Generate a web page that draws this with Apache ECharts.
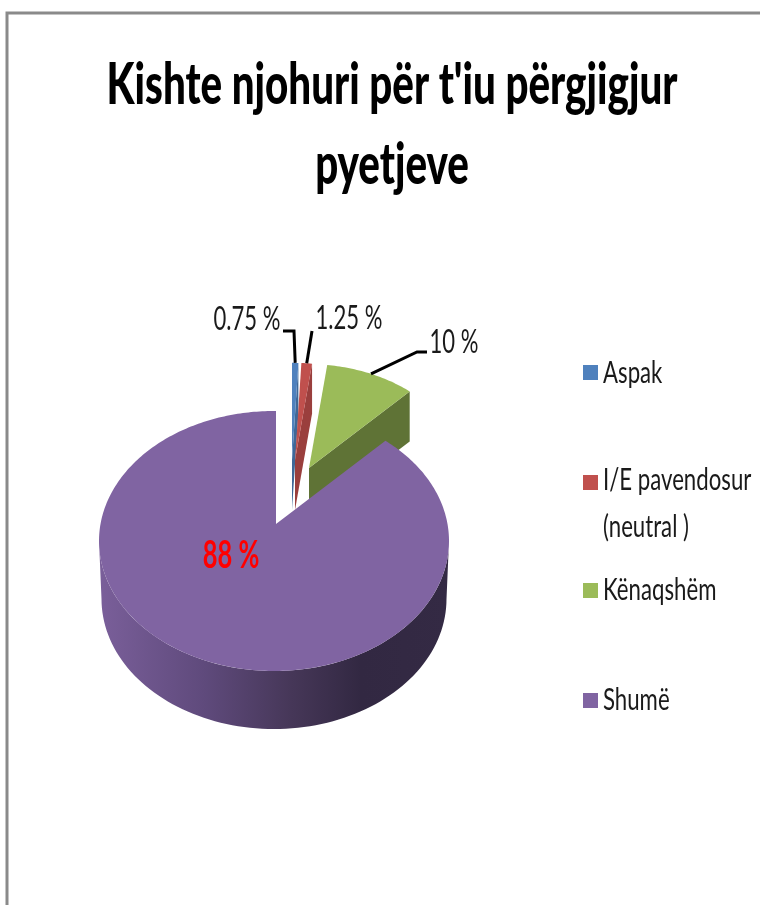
<!DOCTYPE html>
<html>
<head>
<meta charset="utf-8">
<style>html,body{margin:0;padding:0;background:#fff}#c{width:760px;height:905px}</style>
<script src="https://cdn.jsdelivr.net/npm/echarts@6/dist/echarts.min.js"></script>
</head>
<body>
<div id="c"></div>
<script>
const titleLines = ["Kishte njohuri për t'iu përgjigjur", "pyetjeve"];
const categories = ['Aspak', 'I/E pavendosur', 'Kënaqshëm', 'Shumë'];
const categoryExtraLine = '(neutral )';
const values = [0.75, 1.25, 10, 88];
const valueLabels = ['0.75 %', '1.25 %', '10 %', '88 %'];

const colors = ['#4f81bd', '#c0504d', '#9bbb59', '#8064a2'];
const wallColors = ['#3f6897', '#9a3f3d', '#5f7336', '#4a3a5f'];
const FONT = 'Lato,"Open Sans",sans-serif';

// 3D look of the exploded pie: each slice's apex, its size factor and depth
const sliceGeom = [
  { apex: [292, 460], s: 0.86, depth: 50 },
  { apex: [295, 460], s: 0.86, depth: 50 },
  { apex: [309, 468], s: 0.92, depth: 50 },
  { apex: [276, 524], s: 1, depth: 58 }
];
const labelGeom = [
  { pos: [247, 320], elbow: [[283, 331], [294, 331]] },
  { pos: [349, 319], elbow: [[312, 331]] },
  { pos: [454, 343], elbow: [[427, 352], [417, 352]] },
  { pos: [231, 556], elbow: null }
];
const legendTextY = [373, 480, 590, 700];
const legendTops = [365, 475, 583, 693];
const RX = 175, RY = 130, RAY_Y = 125, CENTER_DY = 17, CENTER_DX = -2;

const total = values.reduce((a, b) => a + b, 0);

function rimPoint(g, deg) {
  const th = deg * Math.PI / 180, rx = RX * g.s, ry = RY * g.s;
  const ex = g.apex[0] + CENTER_DX * g.s, ey = g.apex[1] + CENTER_DY * g.s;
  const dx = Math.sin(th) * RX, dy = -Math.cos(th) * RAY_Y;
  const ox = (g.apex[0] - ex) / rx, oy = (g.apex[1] - ey) / ry;
  const nx = dx / rx, ny = dy / ry;
  const a = nx * nx + ny * ny, b = 2 * (ox * nx + oy * ny), c = ox * ox + oy * oy - 1;
  const t = (-b + Math.sqrt(b * b - 4 * a * c)) / (2 * a);
  return [g.apex[0] + dx * t, g.apex[1] + dy * t];
}

function renderSlice(i) {
  return function (params, api) {
    const g = sliceGeom[i];
    const before = values.slice(0, i).reduce((a, b) => a + b, 0);
    const a0 = before / total * 360;
    const a1 = a0 + api.value(0) / total * 360;
    const steps = Math.max(4, Math.ceil(a1 - a0));
    const rim = [];
    for (let k = 0; k <= steps; k++) rim.push(rimPoint(g, a0 + (a1 - a0) * k / steps));
    const children = [];

    if (i === 3) {
      const rx = RX * g.s, ry = RY * g.s;
      const ex = g.apex[0] + CENTER_DX, ey = g.apex[1] + CENTER_DY;
      const upper = [], lower = [];
      for (let d = 0; d <= 180; d += 2) {
        const r = d * Math.PI / 180;
        upper.push([ex + rx * Math.cos(r), ey + ry * Math.sin(r)]);
        lower.push([ex + (rx - 2.5) * Math.cos(r), ey + g.depth + ry * Math.sin(r)]);
      }
      children.push({
        type: 'polygon',
        shape: { points: upper.concat(lower.reverse()) },
        style: {
          fill: new echarts.graphic.LinearGradient(0, 0, 1, 0, [
            { offset: 0, color: '#7a5f9a' },
            { offset: 0.3, color: '#5f4a7c' },
            { offset: 0.55, color: '#463758' },
            { offset: 0.75, color: '#322842' },
            { offset: 1, color: '#342a44' }
          ])
        }
      });
    } else {
      const end = rim[rim.length - 1];
      children.push({
        type: 'polygon',
        shape: { points: [g.apex, end, [end[0], end[1] + g.depth], [g.apex[0], g.apex[1] + g.depth]] },
        style: { fill: wallColors[i] }
      });
    }
    children.push({
      type: 'polygon',
      shape: { points: [g.apex].concat(rim) },
      style: { fill: colors[i] }
    });

    const lab = labelGeom[i];
    if (lab.elbow) {
      const mid = rimPoint(g, (a0 + a1) / 2);
      children.push({
        type: 'polyline',
        shape: { points: lab.elbow.concat([mid]) },
        style: { stroke: '#000', lineWidth: 3, fill: null }
      });
    }
    children.push({
      type: 'text',
      x: lab.pos[0], y: lab.pos[1], scaleX: i === 3 ? 0.67 : 0.69,
      style: {
        text: valueLabels[i],
        fontFamily: FONT,
        fontSize: i === 3 ? 38 : 32,
        fontWeight: i === 3 ? 'bold' : 'normal',
        fill: i === 3 ? '#ff0000' : '#1a1a1a',
        align: 'center', verticalAlign: 'middle'
      }
    });
    return { type: 'group', children: children };
  };
}

function legendText(text, y) {
  return {
    type: 'text', x: 603, y: y, scaleX: 0.74,
    style: { text: text, fontFamily: FONT, fontSize: 30, fill: '#1a1a1a', align: 'left', verticalAlign: 'middle' }
  };
}
function titleLine(text, y) {
  return {
    type: 'text', x: 392, y: y, scaleX: 0.695,
    style: { text: text, fontFamily: FONT, fontWeight: 900, fontSize: 58, fill: '#000', align: 'center', verticalAlign: 'middle' }
  };
}

const chart = echarts.init(document.getElementById('c'), null, { renderer: 'canvas' });
chart.setOption({
  animation: false,
  backgroundColor: '#fff',
  legend: categories.map((c, i) => ({
    data: [c], left: 583, top: legendTops[i], padding: 0,
    icon: 'rect', itemWidth: 15, itemHeight: 15, selectedMode: false,
    formatter: () => ' ',
    textStyle: { fontSize: 12, color: '#1a1a1a' }
  })),
  graphic: [
    { type: 'rect', shape: { x: 7, y: 13, width: 800, height: 950 }, style: { fill: 'none', stroke: '#8a8a8a', lineWidth: 3 }, z: -1 },
    titleLine(titleLines[0], 85),
    titleLine(titleLines[1], 165),
    legendText(categories[0], legendTextY[0]),
    legendText(categories[1], legendTextY[1]),
    legendText(categoryExtraLine, 527),
    legendText(categories[2], legendTextY[2]),
    legendText(categories[3], legendTextY[3])
  ],
  series: categories.map((c, i) => ({
    type: 'custom', name: c, coordinateSystem: 'none',
    itemStyle: { color: colors[i] },
    data: [[values[i]]],
    renderItem: renderSlice(i),
    silent: true
  }))
});
</script>
</body>
</html>
